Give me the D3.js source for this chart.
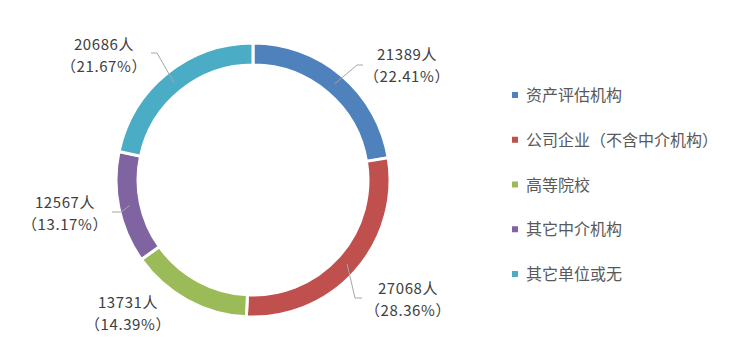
<!DOCTYPE html>
<html><head><meta charset="utf-8">
<script src="https://cdn.jsdelivr.net/npm/d3@7/dist/d3.min.js"></script>
<style>
html,body{margin:0;padding:0;background:#fff;}
text{font-family:"Noto Sans CJK SC","Microsoft YaHei",sans-serif;}
</style></head>
<body>
<svg id="chart" width="747" height="360"></svg>
<script>
const categories = ["资产评估机构","公司企业（不含中介机构）","高等院校","其它中介机构","其它单位或无"];
const values = [21389, 27068, 13731, 12567, 20686];
const percents = ["22.41%","28.36%","14.39%","13.17%","21.67%"];
const colors = ["#4F81BD","#C0504D","#9BBB59","#8064A2","#4BACC6"];

// layout: label centre (x,y of first line) and leader elbow points, per slice
const labelLayout = [
  {x:407, y:60, elbow:[[357,65],[363,65]], line:true},
  {x:408, y:294, elbow:[[355,298],[362,298]], line:true},
  {x:128, y:308, elbow:null, line:false},
  {x:65, y:208, elbow:[[121,212],[112,212]], line:true},
  {x:104, y:50, elbow:[[157,53],[151,53]], line:true}
];

const svg = d3.select("#chart");
const cx = 253, cy = 180, R = 137, r = 115;
const pie = d3.pie().sort(null).value(d => d)(values);
const arc = d3.arc().innerRadius(r).outerRadius(R);
const mid = d3.arc().innerRadius((R+r)/2).outerRadius((R+r)/2);
const g = svg.append("g").attr("transform", `translate(${cx},${cy})`);
g.selectAll("path.slice").data(pie).join("path")
  .attr("class","slice")
  .attr("d", arc)
  .attr("fill", (d,i) => colors[i])
  .attr("stroke", "#fff").attr("stroke-width", 3);

// leader lines
pie.forEach((d,i) => {
  const L = labelLayout[i];
  if (!L.line) return;
  const c = mid.centroid(d);
  const pts = [[c[0]+cx, c[1]+cy]].concat(L.elbow);
  svg.append("path")
    .attr("d", d3.line()(pts))
    .attr("fill","none").attr("stroke","#A6A6A6").attr("stroke-width",1);
});

// labels
pie.forEach((d,i) => {
  const L = labelLayout[i];
  const t = svg.append("text").attr("text-anchor","middle")
    .attr("fill","#404040").attr("font-size",15).attr("letter-spacing",0.6);
  t.append("tspan").attr("x",L.x).attr("y",L.y).text(values[i] + "人");
  t.append("tspan").attr("x",L.x).attr("y",L.y+22).text("（" + percents[i] + "）");
});

// legend
const legendY = d3.scalePoint().domain(categories).range([95, 274]);
const lg = svg.append("g");
categories.forEach((c,i) => {
  lg.append("rect").attr("x",512).attr("y",legendY(c)-3).attr("width",6).attr("height",6).attr("fill",colors[i]);
  lg.append("text").attr("x",526).attr("y",legendY(c)+6).attr("font-size",16)
    .attr("fill","#595959").text(c);
});
</script>
</body></html>
